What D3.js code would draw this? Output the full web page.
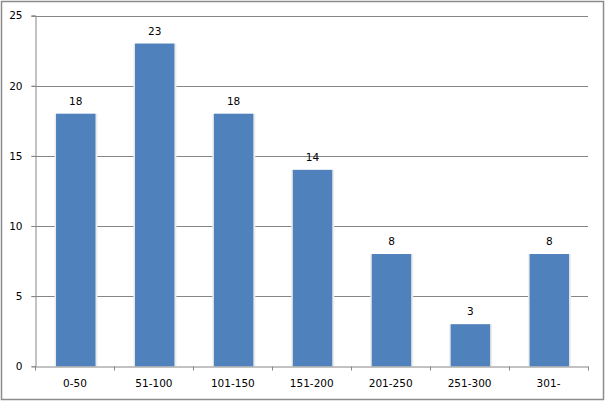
<!DOCTYPE html>
<html><head><meta charset="utf-8">
<script src="https://cdn.jsdelivr.net/npm/d3@7"></script>
<style>body{margin:0;background:#fff}svg{display:block}</style>
</head><body>
<script>
const categories = ["0-50","51-100","101-150","151-200","201-250","251-300","301-"];
const values = [18,23,18,14,8,3,8];
const yTicks = [0,5,10,15,20,25];

const W=605,H=402;
const m={left:35.5,right:17,top:15.5,bottom:35.5};
const svg=d3.select("body").append("svg").attr("width",W).attr("height",H);
svg.append("rect").attr("x",1.5).attr("y",1.5).attr("width",W-3).attr("height",H-4)
  .attr("fill","#fff").attr("stroke","#8c8c8c").attr("stroke-width",1.5);

const x=d3.scaleBand().domain(categories).range([m.left,W-m.right]).paddingInner(0.5).paddingOuter(0.25);
const y=d3.scaleLinear().domain([0,25]).range([H-m.bottom-0.2,m.top]);
const font="DejaVu Sans, Verdana, sans-serif";

svg.append("g").selectAll("line").data(yTicks.filter(d=>d>0)).join("line")
  .attr("x1",m.left-4).attr("x2",W-m.right).attr("y1",d=>Math.round(y(d))+0.5).attr("y2",d=>Math.round(y(d))+0.5)
  .attr("stroke","#868686").attr("stroke-width",1);

const ya=svg.append("g").attr("transform",`translate(${m.left},0)`)
  .call(d3.axisLeft(y).tickValues(yTicks).tickSize(4).tickPadding(9));
ya.select(".domain").attr("stroke","#868686");
ya.selectAll(".tick line").attr("stroke","#868686");
ya.selectAll("text").attr("font-family",font).attr("font-size","10.5px").attr("fill","#000");

const off=0.8;
svg.append("g").selectAll("rect").data(values).join("rect")
  .attr("x",(d,i)=>x(categories[i])+off-1.5).attr("width",x.bandwidth()+3.5)
  .attr("y",d=>y(d)).attr("height",d=>y(0)-y(d))
  .attr("fill","#ececec");
svg.append("g").selectAll("rect").data(values).join("rect")
  .attr("x",(d,i)=>x(categories[i])+off).attr("width",x.bandwidth())
  .attr("y",d=>y(d)).attr("height",d=>y(0)-y(d))
  .attr("fill","#4f81bd");

const xa=svg.append("g").attr("transform",`translate(0,${Math.round(y(0))+0.5})`)
  .call(d3.axisBottom(x).tickSize(0).tickPadding(13));
xa.select(".domain").attr("stroke","#868686");
xa.selectAll("text").attr("font-family",font).attr("font-size","10.5px").attr("fill","#000");
const bounds=[...categories.map(c=>x(c)-x.step()*0.25), W-m.right];
xa.selectAll(".btick").data(bounds).join("line").attr("class","btick")
  .attr("x1",d=>Math.round(d)+0.5).attr("x2",d=>Math.round(d)+0.5).attr("y1",0).attr("y2",4)
  .attr("stroke","#868686");

svg.append("g").selectAll("text").data(values).join("text")
  .attr("x",(d,i)=>x(categories[i])+off+x.bandwidth()/2).attr("y",d=>y(d)-9)
  .attr("text-anchor","middle").attr("font-family",font).attr("font-size","10.5px").attr("fill","#000")
  .text(d=>d);
</script>
</body></html>
